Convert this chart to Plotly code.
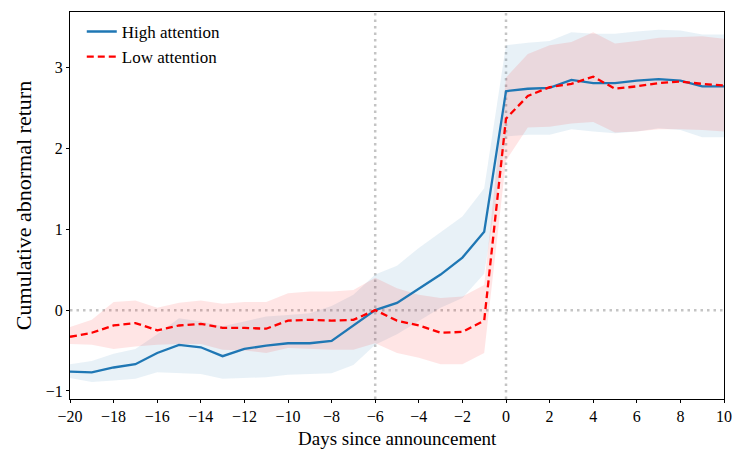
import plotly.graph_objects as go

days = list(range(-20, 11))

high_mean = [-0.76, -0.77, -0.71, -0.67, -0.53, -0.43, -0.46, -0.57, -0.48, -0.44, -0.41,
             -0.41, -0.38, -0.19, 0.00, 0.09, 0.26, 0.44, 0.65, 0.97,
             2.71, 2.74, 2.75, 2.85, 2.81, 2.81, 2.84, 2.86, 2.84, 2.77, 2.77]
high_upper = [-0.67, -0.63, -0.54, -0.48, -0.30, -0.10, -0.14, -0.20, -0.14, -0.08, -0.06,
              -0.04, 0.05, 0.19, 0.44, 0.55, 0.77, 0.97, 1.16, 1.51,
              3.28, 3.31, 3.33, 3.44, 3.42, 3.42, 3.45, 3.47, 3.46, 3.41, 3.41]
high_lower = [-0.84, -0.89, -0.87, -0.85, -0.77, -0.78, -0.79, -0.85, -0.84, -0.83, -0.80,
              -0.79, -0.78, -0.68, -0.43, -0.30, -0.14, 0.03, 0.15, 0.45,
              2.15, 2.17, 2.17, 2.24, 2.21, 2.19, 2.21, 2.25, 2.23, 2.14, 2.14]

low_mean = [-0.33, -0.28, -0.19, -0.16, -0.25, -0.19, -0.17, -0.22, -0.22, -0.23, -0.13,
            -0.12, -0.13, -0.12, 0.00, -0.13, -0.19, -0.28, -0.27, -0.13,
            2.37, 2.65, 2.76, 2.80, 2.89, 2.74, 2.77, 2.81, 2.83, 2.80, 2.78]
low_upper = [-0.21, -0.12, 0.10, 0.12, 0.03, 0.09, 0.12, 0.08, 0.10, 0.10, 0.21,
             0.23, 0.23, 0.25, 0.40, 0.27, 0.19, 0.15, 0.17, 0.31,
             2.88, 3.17, 3.28, 3.32, 3.44, 3.30, 3.33, 3.37, 3.38, 3.39, 3.36]
low_lower = [-0.42, -0.43, -0.48, -0.45, -0.43, -0.42, -0.42, -0.49, -0.50, -0.53, -0.47,
             -0.48, -0.49, -0.49, -0.41, -0.53, -0.59, -0.67, -0.67, -0.53,
             1.85, 2.26, 2.27, 2.31, 2.33, 2.20, 2.21, 2.24, 2.24, 2.23, 2.21]

x_ticks = list(range(-20, 11, 2))
x_ticktext = [str(v).replace("-", "\u2212") for v in x_ticks]
y_ticks = [-1, 0, 1, 2, 3]
y_ticktext = [str(v).replace("-", "\u2212") for v in y_ticks]
ref_vlines = [-6, 0]
ref_hline = 0
x_title = "Days since announcement"
y_title = "Cumulative abnormal return"

FONT = "Liberation Serif"
BLUE = "#1f77b4"
RED = "red"
DOT = dict(color="#c4c4c4", width=2.5, dash="2.5px,4px")

fig = go.Figure()

# bands
fig.add_trace(go.Scatter(x=days, y=high_lower, mode="lines", line=dict(width=0),
                         showlegend=False, hoverinfo="skip"))
fig.add_trace(go.Scatter(x=days, y=high_upper, mode="lines", line=dict(width=0),
                         fill="tonexty", fillcolor="rgba(31,119,180,0.1)",
                         showlegend=False, hoverinfo="skip"))
fig.add_trace(go.Scatter(x=days, y=low_lower, mode="lines", line=dict(width=0),
                         showlegend=False, hoverinfo="skip"))
fig.add_trace(go.Scatter(x=days, y=low_upper, mode="lines", line=dict(width=0),
                         fill="tonexty", fillcolor="rgba(255,0,0,0.1)",
                         showlegend=False, hoverinfo="skip"))

# lines
fig.add_trace(go.Scatter(x=days, y=high_mean, mode="lines", name="High attention",
                         line=dict(color=BLUE, width=2.3)))
fig.add_trace(go.Scatter(x=days, y=low_mean, mode="lines", name="Low attention",
                         line=dict(color=RED, width=2.3, dash="7px,4px")))

for xv in ref_vlines:
    fig.add_vline(x=xv, line=DOT, layer="below")
fig.add_hline(y=ref_hline, line=DOT, layer="below")

axis_common = dict(showgrid=False, zeroline=False, showline=True, linecolor="black",
                   linewidth=1, mirror=True, ticks="outside", ticklen=3, automargin=False,
                   tickcolor="black", tickfont=dict(family=FONT, size=16, color="black"))

fig.update_xaxes(range=[-20, 10], tickvals=x_ticks, ticktext=x_ticktext, **axis_common)
fig.update_yaxes(range=[-1.1, 3.69], tickvals=y_ticks, ticktext=y_ticktext,
                 title=dict(text=y_title,
                            font=dict(family=FONT, size=22, color="black"), standoff=8),
                 **axis_common)

fig.add_annotation(text=x_title, xref="paper", yref="paper", x=0.5, y=0,
                   xanchor="center", yanchor="top", yshift=-27, showarrow=False,
                   font=dict(family=FONT, size=19, color="black"))

fig.update_layout(
    width=734, height=453,
    margin=dict(l=70, r=10, t=12, b=54),
    plot_bgcolor="white", paper_bgcolor="white",
    font=dict(family=FONT, color="black"),
    legend=dict(x=0.018, y=0.995, xanchor="left", yanchor="top",
                traceorder="normal",
                bgcolor="rgba(0,0,0,0)", borderwidth=0,
                font=dict(family=FONT, size=17, color="black"),
                tracegroupgap=2),
)

fig.write_html("out.html")
